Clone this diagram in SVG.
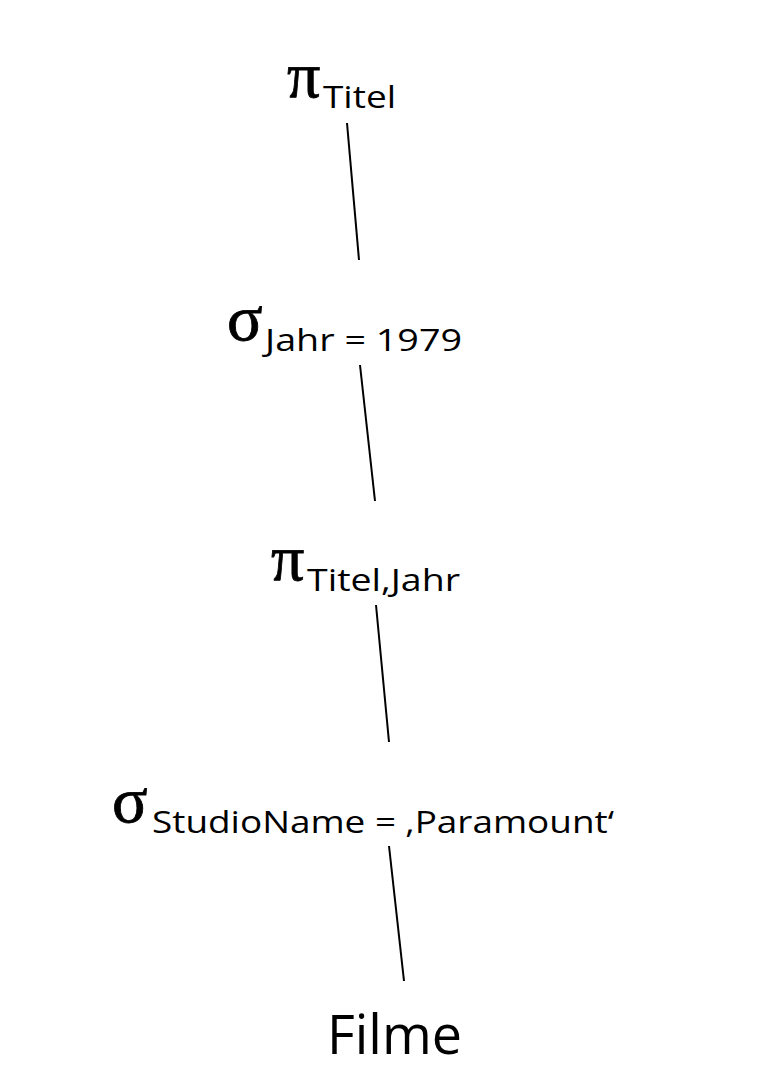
<svg xmlns="http://www.w3.org/2000/svg" width="762" height="1073" viewBox="0 0 762 1073">
<style>
.g{font-family:"Liberation Serif",serif;font-size:66px;fill:#000;stroke:#000;stroke-width:0.8}
.s{font-family:"Open Sans","Noto Sans",sans-serif;font-size:31px;fill:#000}
.c{stroke:#000;stroke-width:2;fill:none}
</style>
<rect width="762" height="1073" fill="#fff"/>
<g id="connectors">
<line class="c" x1="347" y1="123" x2="359" y2="260"/>
<line class="c" x1="360" y1="365" x2="375" y2="501"/>
<line class="c" x1="376" y1="605" x2="389" y2="742"/>
<line class="c" x1="389" y1="846" x2="404" y2="981"/>
</g>
<g id="proj-titel">
<text class="g" x="287" y="97">π</text>
<text class="s" x="323" y="108" textLength="73" lengthAdjust="spacingAndGlyphs">Titel</text>
</g>
<g id="sel-jahr">
<text class="g" x="227" y="340">σ</text>
<text class="s" x="265" y="351" textLength="197" lengthAdjust="spacingAndGlyphs">Jahr = 1979</text>
</g>
<g id="proj-titel-jahr">
<text class="g" x="271" y="580">π</text>
<text class="s" x="307" y="591" textLength="153" lengthAdjust="spacingAndGlyphs">Titel,Jahr</text>
</g>
<g id="sel-studio">
<text class="g" x="112" y="822">σ</text>
<text class="s" x="152" y="833" textLength="462" lengthAdjust="spacingAndGlyphs">StudioName = ‚Paramount‘</text>
</g>
<g id="filme">
<text class="s" x="327" y="1054" style="font-size:55px" textLength="135" lengthAdjust="spacingAndGlyphs">Filme</text>
</g>
</svg>
